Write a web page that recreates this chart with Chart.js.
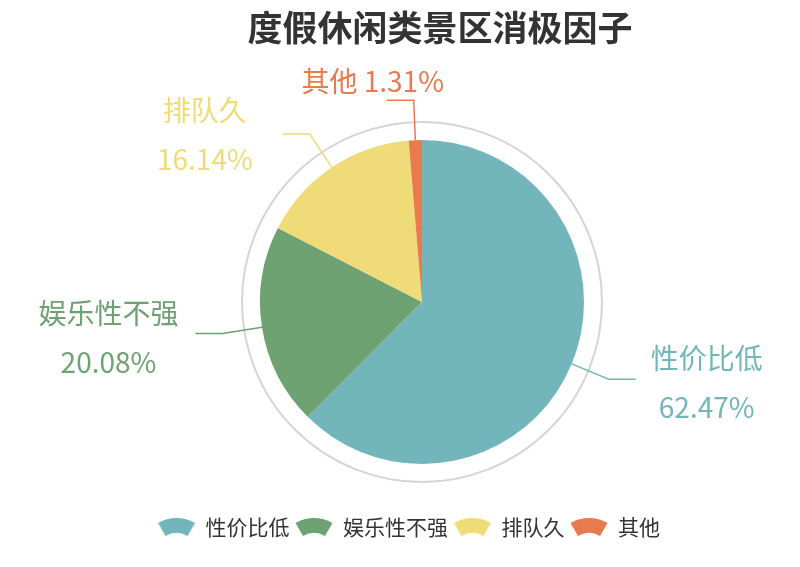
<!DOCTYPE html>
<html lang="zh">
<head>
<meta charset="utf-8">
<title>度假休闲类景区消极因子</title>
<script src="https://cdn.jsdelivr.net/npm/chart.js@4.4.1/dist/chart.umd.min.js"></script>
<style>
  html, body { margin: 0; padding: 0; background: #fff; }
  #wrap { width: 800px; height: 567px; }
</style>
</head>
<body>
<div id="wrap"><canvas id="chart" width="800" height="567"></canvas></div>
<script>
// ==========================================
// 1. data
// ==========================================
const chartTitle = '度假休闲类景区消极因子';
const categories = ['性价比低', '娱乐性不强', '排队久', '其他'];
const shares = [62.47, 20.08, 16.14, 1.31];   // %
const colors = ['#72b6bb', '#6fa272', '#efdb78', '#e97a4e'];

const FONT = '"Noto Sans CJK SC", "Noto Sans", sans-serif';

// leader line / label tweaks (per slice)
const lineLen1 = 40, lineLen2 = 27;
const labelGap = [15, 17, 30, 0];
const labelDy = [-1, 0, -4, 0];

// ==========================================
// 2. legend fan icons
// ==========================================
function fanIcon(color) {
    const c = document.createElement('canvas');
    c.width = 38; c.height = 21;
    const g = c.getContext('2d');
    const cx = 19, cy = 38, R = 37, r = 22, a = 30 * Math.PI / 180;
    g.beginPath();
    g.arc(cx, cy, R, -Math.PI / 2 - a, -Math.PI / 2 + a);
    g.arc(cx, cy, r, -Math.PI / 2 + a, -Math.PI / 2 - a, true);
    g.closePath();
    g.fillStyle = color;
    g.fill();
    return c;
}
const fanIcons = colors.map(fanIcon);

// ==========================================
// 3. plugins
// ==========================================
// grey ring round the pie
const ringPlugin = {
    id: 'outerRing',
    beforeDatasetsDraw(chart) {
        const arc = chart.getDatasetMeta(0).data[0];
        if (!arc) return;
        const { x, y, outerRadius } = arc.getProps(['x', 'y', 'outerRadius'], true);
        const ctx = chart.ctx;
        ctx.save();
        ctx.beginPath();
        ctx.arc(x, y, outerRadius + 18, 0, Math.PI * 2);
        ctx.strokeStyle = '#d5d5d5';
        ctx.lineWidth = 2;
        ctx.stroke();
        ctx.restore();
    }
};

// outside labels with leader lines
const labelPlugin = {
    id: 'outsideLabels',
    afterDatasetsDraw(chart) {
        const ctx = chart.ctx;
        const meta = chart.getDatasetMeta(0);
        meta.data.forEach((arc, i) => {
            const p = arc.getProps(['x', 'y', 'startAngle', 'endAngle', 'outerRadius'], true);
            const mid = (p.startAngle + p.endAngle) / 2;
            const cos = Math.cos(mid), sin = Math.sin(mid);
            const x0 = p.x + cos * p.outerRadius, y0 = p.y + sin * p.outerRadius;
            const x1 = p.x + cos * (p.outerRadius + lineLen1), y1 = p.y + sin * (p.outerRadius + lineLen1);
            const side = cos >= 0 ? 1 : -1;
            const x2 = x1 + side * lineLen2, y2 = y1;
            const color = colors[i];

            ctx.save();
            ctx.beginPath();
            ctx.moveTo(x0, y0);
            ctx.lineTo(x1, y1);
            ctx.lineTo(x2, y2);
            ctx.strokeStyle = color;
            ctx.lineWidth = 1.5;
            ctx.stroke();

            ctx.font = '28px ' + FONT;
            ctx.fillStyle = color;
            ctx.textAlign = 'center';
            ctx.textBaseline = 'middle';
            const pct = shares[i].toFixed(2) + '%';
            if (Math.abs(cos) < 0.2) {
                // near the top: one line above the line end
                ctx.fillText(categories[i] + ' ' + pct, x2 - 14, y2 - 19);
            } else {
                const w = Math.max(ctx.measureText(categories[i]).width, ctx.measureText(pct).width);
                const cx = x2 + side * (labelGap[i] + w / 2);
                ctx.fillText(categories[i], cx, y2 - 20 + labelDy[i]);
                ctx.fillText(pct, cx, y2 + 29 + labelDy[i]);
            }
            ctx.restore();
        });
    }
};

// title / legend are not centred on the pie in the original
const shiftPlugin = {
    id: 'shiftBoxes',
    afterLayout(chart) {
        chart.titleBlock.left += 18; chart.titleBlock.right += 18;
        chart.legend.left -= 13; chart.legend.right -= 13;
    }
};

// ==========================================
// 4. chart
// ==========================================
new Chart(document.getElementById('chart'), {
    type: 'pie',
    data: {
        labels: categories,
        datasets: [{
            data: shares,
            backgroundColor: colors,
            borderWidth: 0,
            radius: 162
        }]
    },
    options: {
        responsive: false,
        animation: false,
        devicePixelRatio: 1,
        layout: { padding: { left: 44, bottom: 19 } },
        plugins: {
            title: {
                display: true,
                text: chartTitle,
                color: '#333',
                font: { family: FONT, size: 35, weight: 'bold' },
                padding: { top: 7, bottom: 44 }
            },
            legend: {
                position: 'bottom',
                labels: {
                    usePointStyle: true,
                    pointStyleWidth: 37,
                    boxHeight: 21,
                    padding: 6,
                    color: '#333',
                    font: { family: FONT, size: 21 },
                    generateLabels(chart) {
                        const items = Chart.overrides.doughnut.plugins.legend.labels.generateLabels(chart);
                        items.forEach((it, i) => { it.pointStyle = fanIcons[i]; });
                        return items;
                    }
                }
            },
            tooltip: { enabled: false }
        }
    },
    plugins: [ringPlugin, labelPlugin, shiftPlugin]
});
</script>
</body>
</html>
